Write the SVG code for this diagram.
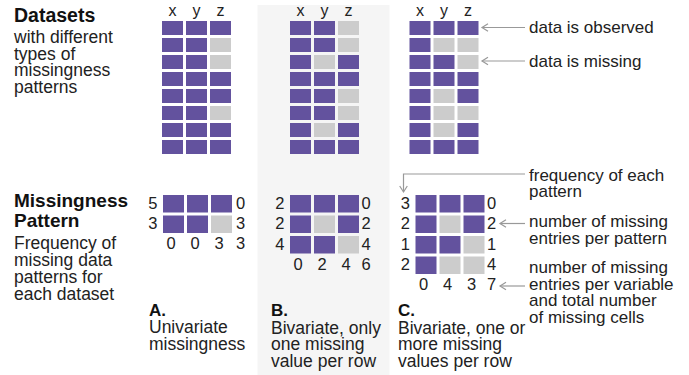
<svg xmlns="http://www.w3.org/2000/svg" width="689" height="375" viewBox="0 0 689 375">
<style>
text{font-family:"Liberation Sans",Arial,sans-serif;fill:#222}
.t{font-size:17.5px}
.a{font-size:17px}
.h{font-size:19.5px;font-weight:bold;fill:#111}
.l{font-size:17px;font-weight:bold;fill:#111}
.c{font-size:16px;text-anchor:middle}
.n{font-size:16.5px}
.e{text-anchor:end}
.m2{text-anchor:middle}
.o{fill:#63529e}
.m{fill:#cccccc}
.ln{fill:none;stroke:#999;stroke-width:1.2}
</style>
<defs>
<marker id="arr" markerUnits="userSpaceOnUse" markerWidth="10" markerHeight="10" refX="7" refY="5" orient="auto" viewBox="0 0 10 10">
<path d="M1,1.2 L7,5 L1,8.8" fill="none" stroke="#999" stroke-width="1.2"/>
</marker>
</defs>
<rect id="panelB" x="257.5" y="5" width="132" height="370" fill="#f5f5f5"/>

<g id="title-datasets">
<text class="h" x="14" y="21.5">Datasets</text>
<text class="t" x="14" y="43">with different</text>
<text class="t" x="14" y="59.5">types of</text>
<text class="t" x="14" y="76">missingness</text>
<text class="t" x="14" y="92.5">patterns</text>
</g>

<g id="title-pattern">
<text class="h" x="14" y="206.5" style="font-size:19px">Missingness</text>
<text class="h" x="14" y="226.5" style="font-size:19px">Pattern</text>
<text class="t" x="14" y="249">Frequency of</text>
<text class="t" x="14" y="266">missing data</text>
<text class="t" x="14" y="283">patterns for</text>
<text class="t" x="14" y="299.5">each dataset</text>
</g>

<g id="dataset-A" transform="translate(162,21)">
<text class="c" x="10.5" y="-5">x</text><text class="c" x="34.5" y="-5">y</text><text class="c" x="58.5" y="-5">z</text>
<rect class="o" x="0" y="0" width="21" height="14"/><rect class="o" x="24" y="0" width="21" height="14"/><rect class="o" x="48" y="0" width="21" height="14"/>
<rect class="o" x="0" y="17" width="21" height="14"/><rect class="o" x="24" y="17" width="21" height="14"/><rect class="m" x="48" y="17" width="21" height="14"/>
<rect class="o" x="0" y="34" width="21" height="14"/><rect class="o" x="24" y="34" width="21" height="14"/><rect class="m" x="48" y="34" width="21" height="14"/>
<rect class="o" x="0" y="51" width="21" height="14"/><rect class="o" x="24" y="51" width="21" height="14"/><rect class="o" x="48" y="51" width="21" height="14"/>
<rect class="o" x="0" y="68" width="21" height="14"/><rect class="o" x="24" y="68" width="21" height="14"/><rect class="o" x="48" y="68" width="21" height="14"/>
<rect class="o" x="0" y="85" width="21" height="14"/><rect class="o" x="24" y="85" width="21" height="14"/><rect class="m" x="48" y="85" width="21" height="14"/>
<rect class="o" x="0" y="102" width="21" height="14"/><rect class="o" x="24" y="102" width="21" height="14"/><rect class="o" x="48" y="102" width="21" height="14"/>
<rect class="o" x="0" y="119" width="21" height="14"/><rect class="o" x="24" y="119" width="21" height="14"/><rect class="o" x="48" y="119" width="21" height="14"/>
</g>

<g id="dataset-B" transform="translate(290,21)">
<text class="c" x="10.5" y="-5">x</text><text class="c" x="34.5" y="-5">y</text><text class="c" x="58.5" y="-5">z</text>
<rect class="o" x="0" y="0" width="21" height="14"/><rect class="o" x="24" y="0" width="21" height="14"/><rect class="m" x="48" y="0" width="21" height="14"/>
<rect class="o" x="0" y="17" width="21" height="14"/><rect class="o" x="24" y="17" width="21" height="14"/><rect class="m" x="48" y="17" width="21" height="14"/>
<rect class="o" x="0" y="34" width="21" height="14"/><rect class="m" x="24" y="34" width="21" height="14"/><rect class="o" x="48" y="34" width="21" height="14"/>
<rect class="o" x="0" y="51" width="21" height="14"/><rect class="o" x="24" y="51" width="21" height="14"/><rect class="o" x="48" y="51" width="21" height="14"/>
<rect class="o" x="0" y="68" width="21" height="14"/><rect class="o" x="24" y="68" width="21" height="14"/><rect class="m" x="48" y="68" width="21" height="14"/>
<rect class="o" x="0" y="85" width="21" height="14"/><rect class="o" x="24" y="85" width="21" height="14"/><rect class="m" x="48" y="85" width="21" height="14"/>
<rect class="o" x="0" y="102" width="21" height="14"/><rect class="m" x="24" y="102" width="21" height="14"/><rect class="o" x="48" y="102" width="21" height="14"/>
<rect class="o" x="0" y="119" width="21" height="14"/><rect class="o" x="24" y="119" width="21" height="14"/><rect class="o" x="48" y="119" width="21" height="14"/>
</g>

<g id="dataset-C" transform="translate(409.5,21)">
<text class="c" x="10.5" y="-5">x</text><text class="c" x="34.5" y="-5">y</text><text class="c" x="58.5" y="-5">z</text>
<rect class="o" x="0" y="0" width="21" height="14"/><rect class="o" x="24" y="0" width="21" height="14"/><rect class="o" x="48" y="0" width="21" height="14"/>
<rect class="o" x="0" y="17" width="21" height="14"/><rect class="m" x="24" y="17" width="21" height="14"/><rect class="m" x="48" y="17" width="21" height="14"/>
<rect class="o" x="0" y="34" width="21" height="14"/><rect class="o" x="24" y="34" width="21" height="14"/><rect class="m" x="48" y="34" width="21" height="14"/>
<rect class="o" x="0" y="51" width="21" height="14"/><rect class="o" x="24" y="51" width="21" height="14"/><rect class="o" x="48" y="51" width="21" height="14"/>
<rect class="o" x="0" y="68" width="21" height="14"/><rect class="m" x="24" y="68" width="21" height="14"/><rect class="o" x="48" y="68" width="21" height="14"/>
<rect class="o" x="0" y="85" width="21" height="14"/><rect class="m" x="24" y="85" width="21" height="14"/><rect class="m" x="48" y="85" width="21" height="14"/>
<rect class="o" x="0" y="102" width="21" height="14"/><rect class="m" x="24" y="102" width="21" height="14"/><rect class="o" x="48" y="102" width="21" height="14"/>
<rect class="o" x="0" y="119" width="21" height="14"/><rect class="o" x="24" y="119" width="21" height="14"/><rect class="o" x="48" y="119" width="21" height="14"/>
</g>

<g id="pattern-A" transform="translate(163,195)">
<rect class="o" x="0" y="0" width="21" height="17.5"/><rect class="o" x="24" y="0" width="21" height="17.5"/><rect class="o" x="48" y="0" width="21" height="17.5"/>
<rect class="o" x="0" y="20.5" width="21" height="17.5"/><rect class="o" x="24" y="20.5" width="21" height="17.5"/><rect class="m" x="48" y="20.5" width="21" height="17.5"/>
<text class="n e" x="-5.5" y="13.5">5</text><text class="n e" x="-5.5" y="34">3</text>
<text class="n m2" x="77.5" y="13.5">0</text><text class="n m2" x="77.5" y="34">3</text>
<text class="n m2" x="8" y="54">0</text><text class="n m2" x="32" y="54">0</text><text class="n m2" x="56" y="54">3</text><text class="n m2" x="77.5" y="54">3</text>
</g>

<g id="pattern-B" transform="translate(290,195)">
<rect class="o" x="0" y="0" width="21" height="17.5"/><rect class="o" x="24" y="0" width="21" height="17.5"/><rect class="o" x="48" y="0" width="21" height="17.5"/>
<rect class="o" x="0" y="20.5" width="21" height="17.5"/><rect class="m" x="24" y="20.5" width="21" height="17.5"/><rect class="o" x="48" y="20.5" width="21" height="17.5"/>
<rect class="o" x="0" y="41" width="21" height="17.5"/><rect class="o" x="24" y="41" width="21" height="17.5"/><rect class="m" x="48" y="41" width="21" height="17.5"/>
<text class="n e" x="-5.5" y="13.5">2</text><text class="n e" x="-5.5" y="34">2</text><text class="n e" x="-5.5" y="54.5">4</text>
<text class="n m2" x="76" y="13.5">0</text><text class="n m2" x="76" y="34">2</text><text class="n m2" x="76" y="54.5">4</text>
<text class="n m2" x="8" y="74.5">0</text><text class="n m2" x="32" y="74.5">2</text><text class="n m2" x="56" y="74.5">4</text><text class="n m2" x="76" y="74.5">6</text>
</g>

<g id="pattern-C" transform="translate(415.5,195)">
<rect class="o" x="0" y="0" width="21" height="17.5"/><rect class="o" x="24" y="0" width="21" height="17.5"/><rect class="o" x="48" y="0" width="21" height="17.5"/>
<rect class="o" x="0" y="20.5" width="21" height="17.5"/><rect class="m" x="24" y="20.5" width="21" height="17.5"/><rect class="o" x="48" y="20.5" width="21" height="17.5"/>
<rect class="o" x="0" y="41" width="21" height="17.5"/><rect class="o" x="24" y="41" width="21" height="17.5"/><rect class="m" x="48" y="41" width="21" height="17.5"/>
<rect class="o" x="0" y="61.5" width="21" height="17.5"/><rect class="m" x="24" y="61.5" width="21" height="17.5"/><rect class="m" x="48" y="61.5" width="21" height="17.5"/>
<text class="n e" x="-5.5" y="13.5">3</text><text class="n e" x="-5.5" y="34">2</text><text class="n e" x="-5.5" y="54.5">1</text><text class="n e" x="-5.5" y="75">2</text>
<text class="n m2" x="76" y="13.5">0</text><text class="n m2" x="76" y="34">2</text><text class="n m2" x="76" y="54.5">1</text><text class="n m2" x="76" y="75">4</text>
<text class="n m2" x="8" y="95">0</text><text class="n m2" x="32" y="95">4</text><text class="n m2" x="56" y="95">3</text><text class="n m2" x="76" y="95">7</text>
</g>

<g id="label-A">
<text class="l" x="149" y="315.5">A.</text>
<text class="t" x="149" y="333">Univariate</text>
<text class="t" x="149" y="350">missingness</text>
</g>
<g id="label-B">
<text class="l" x="271" y="315.5">B.</text>
<text class="t" x="271" y="333.5">Bivariate, only</text>
<text class="t" x="271" y="350.3">one missing</text>
<text class="t" x="271" y="367">value per row</text>
</g>
<g id="label-C">
<text class="l" x="398" y="315.5">C.</text>
<text class="t" x="398" y="333.5">Bivariate, one or</text>
<text class="t" x="398" y="350.3">more missing</text>
<text class="t" x="398" y="367">values per row</text>
</g>

<g id="note-observed"><text class="a" x="529" y="33">data is observed</text></g>
<g id="note-missing"><text class="a" x="529" y="67">data is missing</text></g>
<g id="note-frequency">
<text class="a" x="529" y="180.5">frequency of each</text>
<text class="a" x="529" y="197">pattern</text>
</g>
<g id="note-per-pattern">
<text class="a" x="529" y="227">number of missing</text>
<text class="a" x="529" y="243.5">entries per pattern</text>
</g>
<g id="note-per-variable">
<text class="a" x="529" y="273">number of missing</text>
<text class="a" x="529" y="289.5">entries per variable</text>
<text class="a" x="529" y="306">and total number</text>
<text class="a" x="529" y="322.5">of missing cells</text>
</g>

<g id="connectors">
<path class="ln" d="M525,27.5 H482" marker-end="url(#arr)"/>
<path class="ln" d="M525,61 H482" marker-end="url(#arr)"/>
<path class="ln" d="M525,174 H403.5 V192" marker-end="url(#arr)"/>
<path class="ln" d="M525,223.5 H500" marker-end="url(#arr)"/>
<path class="ln" d="M525,286 H500" marker-end="url(#arr)"/>
</g>
</svg>
